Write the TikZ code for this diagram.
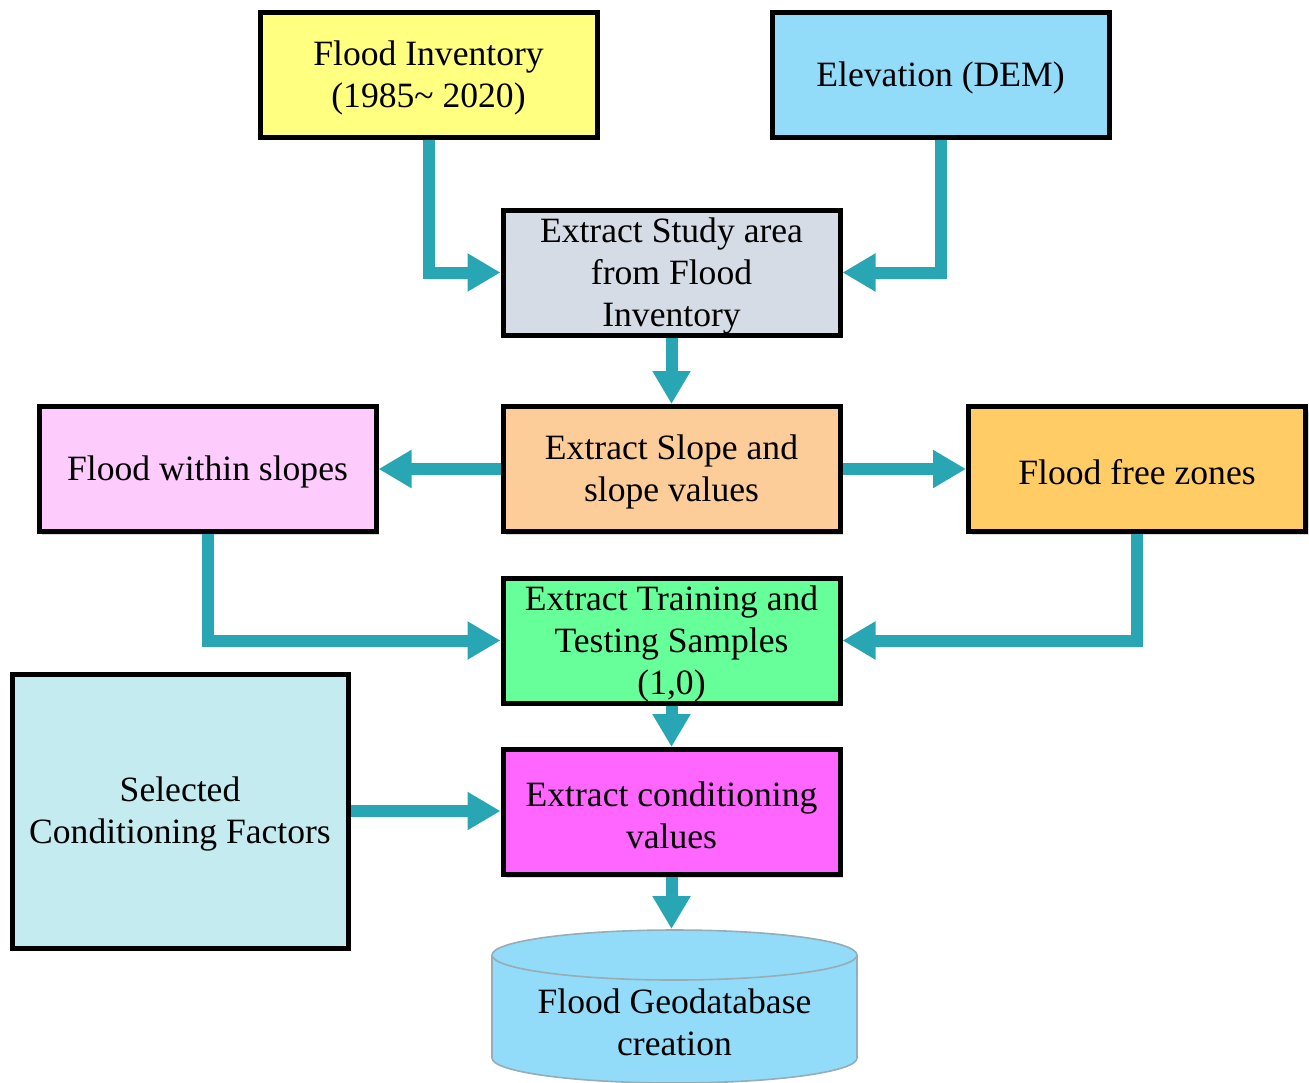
\documentclass[tikz,border=0pt]{standalone}
\usepackage{fontspec}
\setmainfont{Liberation Serif}
\usetikzlibrary{arrows.meta,shadows}
\definecolor{cInv}{RGB}{255,255,128}
\definecolor{cDem}{RGB}{146,220,250}
\definecolor{cStudy}{RGB}{214,220,229}
\definecolor{cSlope}{RGB}{252,204,153}
\definecolor{cWithin}{RGB}{253,204,253}
\definecolor{cFree}{RGB}{255,204,102}
\definecolor{cTrain}{RGB}{102,255,153}
\definecolor{cCond}{RGB}{255,102,255}
\definecolor{cSel}{RGB}{196,236,240}
\definecolor{cDb}{RGB}{146,220,250}
\definecolor{cDbLine}{RGB}{150,172,182}
\definecolor{cFlow}{RGB}{41,166,179}
\tikzset{
  box/.style={draw=black, line width=2.5pt, rectangle, align=center,
    minimum width=168.5pt, minimum height=62.5pt, inner sep=0pt,
    font=\fontsize{17.8}{21}\selectfont,
    drop shadow={shadow xshift=1.5pt, shadow yshift=-1.5pt, opacity=0.3}},
  flow/.style={draw=cFlow, line width=6pt,
    -{Triangle[length=16.5pt, width=18pt]}},
  txt/.style={align=center, font=\fontsize{17.8}{21}\selectfont, inner sep=0pt}
}
\begin{document}
\begin{tikzpicture}[x=0.5pt, y=-0.5pt]
\useasboundingbox (0,0) rectangle (1309,1082);

% process boxes
\node[box, fill=cInv]   (inv)    at (428.5,74.5)  {};
\node[txt] (invtxt) at (428.5,78) {Flood Inventory\\(1985\textasciitilde{} 2020)};
\node[box, fill=cDem]   (dem)    at (940.5,74.5)  {};
\node[txt] (demtxt) at (940.5,78) {Elevation (DEM)};
\node[box, fill=cStudy] (study)  at (671.5,272.5) {};
\node[txt, anchor=north] (studytxt) at (671.5,217) {Extract Study area\\from Flood\\Inventory};
\node[box, fill=cSlope] (slope)  at (671.5,469)   {};
\node[txt] (slopetxt) at (671.5,472) {Extract Slope and\\slope values};
\node[box, fill=cWithin] (within) at (207.5,469)  {};
\node[txt] (withintxt) at (207.5,472) {Flood within slopes};
\node[box, fill=cFree]  (free)   at (1137,469)    {};
\node[txt] (freetxt) at (1137,472) {Flood free zones};
\node[box, fill=cTrain] (train)  at (671.5,640.5) {};
\node[txt, anchor=north] (traintxt) at (671.5,585) {Extract Training and\\Testing Samples\\(1,0)};
\node[box, fill=cCond]  (cond)   at (671.5,812)   {};
\node[txt] (condtxt) at (671.5,815) {Extract conditioning\\values};
\node[box, fill=cSel, minimum width=168pt, minimum height=137pt] (sel) at (180,811) {};
\node[txt] (seltxt) at (180,814) {Selected\\Conditioning Factors};

% database cylinder
\fill[cDb] (492,955) -- (492,1058)
  arc[start angle=180, end angle=360, x radius=91.25pt, y radius=12.5pt]
  -- (857,955)
  arc[start angle=0, end angle=180, x radius=91.25pt, y radius=12.5pt] -- cycle;
\draw[cDbLine, line width=0.8pt] (492,955) -- (492,1058)
  arc[start angle=180, end angle=360, x radius=91.25pt, y radius=12.5pt]
  -- (857,955);
\draw[cDbLine, line width=0.8pt] (674.5,955) ellipse [x radius=91.25pt, y radius=12.5pt];
\coordinate (dbtop) at (674.5,929);
\node[txt] (dbtxt) at (674.5,1022) {Flood Geodatabase\\creation};

% connectors
\draw[flow] (inv.south) |- (study.west);
\draw[flow] (dem.south) |- (study.east);
\draw[flow] (study.south) -- (slope.north);
\draw[flow] (slope.west) -- (within.east);
\draw[flow] (slope.east) -- (free.west);
\draw[flow] (within.south) |- (train.west);
\draw[flow] (free.south) |- (train.east);
\draw[flow] (train.south) -- (cond.north);
\draw[flow] (sel.east) -- (sel.east -| cond.west);
\draw[flow] (cond.south) -- (cond.south |- dbtop);
\end{tikzpicture}
\end{document}
